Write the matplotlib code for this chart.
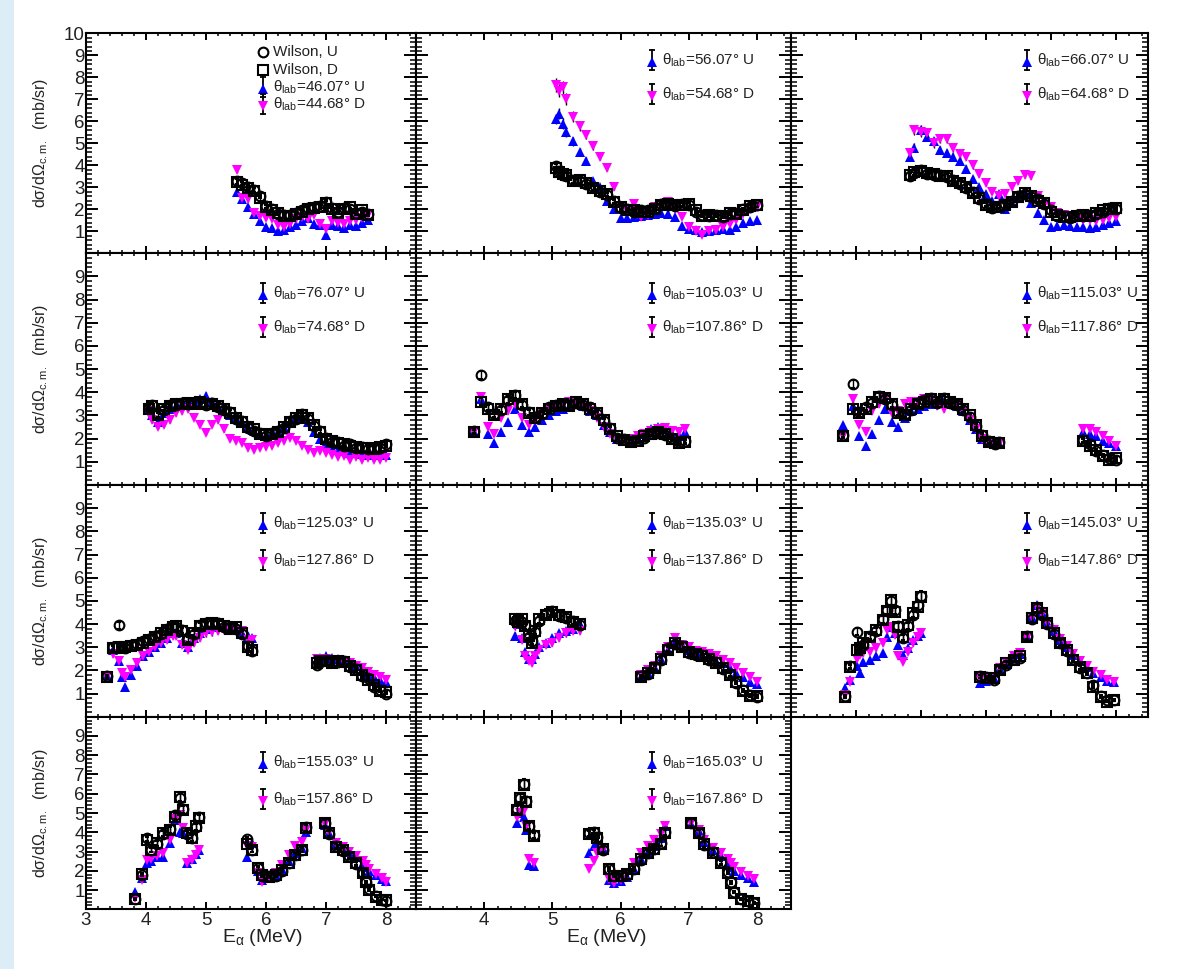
import matplotlib
matplotlib.use("Agg")
import matplotlib.pyplot as plt
from matplotlib.lines import Line2D
from matplotlib.patches import Rectangle
from matplotlib.ticker import MultipleLocator, FuncFormatter

# ---------------- data ----------------
p1_e = [5.52, 5.6, 5.7, 5.8, 5.9, 6.0, 6.1, 6.2, 6.3, 6.4, 6.5, 6.6, 6.7, 6.8, 6.9, 7.0, 7.1, 7.2, 7.3, 7.4, 7.5, 7.6, 7.7]
p1_wu = [3.3, 3.2, 3.0, 2.9, 2.6, 2.15, 2.0, 1.8, 1.75, 1.75, 1.85, 1.95, 2.05, 2.1, 2.15, 2.35, 2.05, 1.9, 2.05, 2.0, 1.85, 1.9, 1.8]
p1_wd = [3.25, 3.1, 2.95, 2.85, 2.5, 2.1, 1.95, 1.85, 1.7, 1.7, 1.8, 1.9, 2.0, 2.05, 2.1, 2.3, 2.0, 1.85, 2.0, 2.1, 1.8, 1.95, 1.75]
p1_up = [2.8, 2.45, 2.1, 1.8, 1.45, 1.2, 1.15, 1.0, 1.05, 1.2, 1.3, 1.45, 1.6, 1.35, 1.3, 0.85, 1.3, 1.25, 1.15, 1.3, 1.25, 1.4, 1.5]
p1_dn = [3.8, 2.5, 2.45, 1.85, 1.7, 1.6, 1.55, 1.3, 1.2, 1.35, 1.55, 1.65, 1.55, 1.75, 1.35, 1.1, 1.45, 1.4, 1.35, 1.45, 1.5, 1.6, 1.75]

p2_e = [5.05, 5.1, 5.15, 5.2, 5.3, 5.4, 5.5, 5.6, 5.7, 5.8, 5.9, 6.0, 6.1, 6.2, 6.3, 6.4, 6.5, 6.6, 6.7, 6.8, 6.9, 7.0, 7.1, 7.2, 7.3, 7.4, 7.5, 7.6, 7.7, 7.8, 7.9, 8.0]
p2_wu = [3.95, 3.75, 3.55, 3.5, 3.35, 3.3, 3.15, 3.0, 2.8, 2.65, 2.4, 2.05, 2.0, 1.9, 1.95, 1.95, 2.05, 2.25, 2.2, 2.15, 2.25, 2.2, 1.9, 1.75, 1.7, 1.75, 1.65, 1.8, 1.85, 2.0, 2.1, 2.2]
p2_wd = [3.9, 3.7, 3.6, 3.55, 3.3, 3.35, 3.2, 2.95, 2.85, 2.7, 2.35, 2.1, 1.95, 1.95, 1.9, 1.9, 2.0, 2.2, 2.25, 2.2, 2.2, 2.25, 1.95, 1.7, 1.75, 1.7, 1.7, 1.85, 1.8, 1.95, 2.15, 2.2]
p2_up = [6.1, 6.35, 5.9, 5.5, 5.1, 4.6, 4.2, 3.3, 3.0, 2.4, 2.0, 1.6, 1.6, 1.65, 1.7, 1.75, 1.8, 1.85, 1.8, 1.65, 1.25, 1.1, 1.05, 0.95, 1.0, 1.05, 1.1, 1.05, 1.2, 1.4, 1.45, 1.5]
p2_dn = [7.65, 7.4, 7.55, 7.0, 6.2, 5.8, 5.4, 4.9, 4.4, 3.9, 3.0, 2.1, 1.95, 2.25, 1.65, 1.75, 2.1, 2.25, 2.35, 2.0, 1.65, 1.2, 1.0, 0.85, 1.0, 1.05, 1.2, 1.35, 1.5, 1.8, 2.0, 2.1]

p3_e = [4.83, 4.9, 5.0, 5.1, 5.2, 5.3, 5.4, 5.5, 5.6, 5.7, 5.8, 5.9, 6.0, 6.1, 6.2, 6.3, 6.4, 6.5, 6.6, 6.7, 6.8, 6.9, 7.0, 7.1, 7.2, 7.3, 7.4, 7.5, 7.6, 7.7, 7.8, 7.9, 8.0]
p3_wu = [3.5, 3.65, 3.8, 3.6, 3.55, 3.55, 3.45, 3.35, 3.15, 2.95, 2.8, 2.45, 2.25, 2.05, 2.15, 2.25, 2.4, 2.6, 2.7, 2.55, 2.45, 2.25, 1.95, 1.7, 1.7, 1.6, 1.75, 1.7, 1.75, 1.8, 1.9, 2.05, 2.0]
p3_wd = [3.55, 3.7, 3.75, 3.65, 3.6, 3.5, 3.5, 3.3, 3.2, 3.0, 2.75, 2.5, 2.2, 2.1, 2.1, 2.2, 2.35, 2.55, 2.75, 2.6, 2.4, 2.3, 1.9, 1.75, 1.65, 1.65, 1.7, 1.75, 1.7, 1.85, 1.95, 2.0, 2.05]
p3_up = [4.4, 4.8, 5.6, 5.3, 5.1, 4.7, 4.55, 4.4, 4.2, 3.85, 3.4, 3.0, 2.7, 2.4, 2.7, 2.0, 2.3, 2.6, 2.8, 2.3, 1.85, 1.5, 1.2, 1.25, 1.3, 1.25, 1.2, 1.2, 1.15, 1.2, 1.3, 1.4, 1.45]
p3_dn = [4.55, 5.6, 5.5, 5.45, 5.0, 5.2, 5.2, 4.8, 4.5, 4.4, 4.0, 3.6, 3.2, 2.8, 2.6, 2.7, 3.0, 3.3, 3.55, 3.5, 2.6, 2.2, 2.1, 1.85, 1.75, 1.7, 1.6, 1.5, 1.5, 1.45, 1.5, 1.6, 1.65]

p4_e = [4.05, 4.1, 4.2, 4.3, 4.4, 4.5, 4.6, 4.7, 4.8, 4.9, 5.0, 5.1, 5.2, 5.3, 5.4, 5.5, 5.6, 5.7, 5.8, 5.9, 6.0, 6.1, 6.2, 6.3, 6.4, 6.5, 6.6, 6.7, 6.8, 6.9, 7.0, 7.1, 7.2, 7.3, 7.4, 7.5, 7.6, 7.7, 7.8, 7.9, 8.0]
p4_wu = [3.35, 3.45, 3.05, 3.25, 3.45, 3.45, 3.55, 3.5, 3.55, 3.55, 3.45, 3.55, 3.35, 3.25, 3.15, 2.85, 2.75, 2.45, 2.35, 2.25, 2.1, 2.25, 2.35, 2.45, 2.75, 2.85, 3.05, 2.85, 2.55, 2.35, 2.05, 1.85, 1.85, 1.7, 1.75, 1.6, 1.65, 1.55, 1.6, 1.6, 1.75]
p4_wd = [3.3, 3.4, 3.0, 3.3, 3.4, 3.5, 3.5, 3.55, 3.5, 3.6, 3.5, 3.5, 3.4, 3.3, 3.1, 2.9, 2.7, 2.5, 2.4, 2.2, 2.15, 2.2, 2.3, 2.5, 2.7, 2.9, 3.0, 2.9, 2.6, 2.3, 2.0, 1.9, 1.8, 1.75, 1.7, 1.65, 1.6, 1.6, 1.55, 1.65, 1.7]
p4_up = [3.3, 3.0, 2.7, 3.1, 3.3, 3.4, 3.5, 3.6, 3.6, 3.7, 3.85, 3.6, 3.4, 3.2, 3.0, 2.9, 2.7, 2.5, 2.35, 2.2, 2.1, 2.2, 2.3, 2.5, 2.7, 2.9, 2.95, 2.7, 2.3, 2.0, 1.8, 1.6, 1.5, 1.45, 1.4, 1.4, 1.35, 1.3, 1.3, 1.3, 1.3]
p4_dn = [3.2, 2.8, 2.5, 2.6, 2.8, 3.1, 3.2, 3.3, 2.9, 2.6, 2.25, 2.6, 2.8, 2.4, 2.0, 1.9, 1.8, 1.6, 1.5, 1.6, 1.65, 1.7, 1.8, 1.9, 2.05, 1.9, 1.7, 1.5, 1.4, 1.45, 1.4, 1.3, 1.2, 1.25, 1.1, 1.2, 1.1, 1.15, 1.1, 1.1, 1.15]

p5_e = [3.85, 3.95, 4.05, 4.15, 4.25, 4.35, 4.45, 4.55, 4.65, 4.75, 4.85, 4.95, 5.05, 5.15, 5.25, 5.35, 5.45, 5.55, 5.65, 5.75, 5.85, 5.95, 6.05, 6.15, 6.25, 6.35, 6.45, 6.55, 6.65, 6.75, 6.85, 6.95]
p5_wu = [2.35, 4.75, 3.35, 3.05, 3.25, 3.65, 3.9, 3.45, 3.15, 2.95, 3.05, 3.35, 3.45, 3.45, 3.45, 3.55, 3.45, 3.35, 3.05, 2.75, 2.45, 2.05, 2.0, 1.9, 1.95, 2.05, 2.25, 2.25, 2.15, 2.05, 1.85, 1.9]
p5_wd = [2.3, 3.6, 3.3, 3.0, 3.3, 3.7, 3.85, 3.5, 3.1, 2.9, 3.1, 3.3, 3.4, 3.5, 3.4, 3.6, 3.5, 3.3, 3.1, 2.8, 2.4, 2.1, 1.95, 1.85, 1.9, 2.1, 2.2, 2.3, 2.2, 2.0, 1.8, 1.85]
p5_up = [2.3, 3.7, 2.2, 1.8, 2.3, 2.7, 3.3, 2.6, 2.3, 2.5, 2.8, 3.0, 3.2, 3.3, 3.35, 3.5, 3.4, 3.2, 3.0, 2.6, 2.3, 2.0, 1.9, 1.9, 2.0, 2.2, 2.4, 2.5, 2.4, 2.2, 2.1, 2.3]
p5_dn = [2.3, 3.8, 2.5, 2.2, 2.9, 3.2, 3.5, 2.9, 2.6, 2.8, 3.1, 3.3, 3.4, 3.5, 3.6, 3.5, 3.4, 3.2, 2.9, 2.5, 2.2, 2.0, 1.9, 2.0, 2.1, 2.2, 2.35, 2.4, 2.45, 2.35, 2.3, 2.4]

p6_e = [3.8, 3.95, 4.05, 4.15, 4.25, 4.35, 4.45, 4.55, 4.65, 4.75, 4.85, 4.95, 5.05, 5.15, 5.25, 5.35, 5.45, 5.55, 5.65, 5.75, 5.85, 5.95, 6.05, 6.15, 6.2, 7.5, 7.6, 7.7, 7.8, 7.9, 8.0]
p6_wu = [2.15, 4.35, 3.15, 3.35, 3.55, 3.85, 3.7, 3.45, 3.15, 3.05, 3.25, 3.55, 3.65, 3.75, 3.55, 3.75, 3.55, 3.45, 3.25, 2.95, 2.55, 2.15, 1.9, 1.75, 1.85, 1.95, 1.75, 1.45, 1.3, 1.15, 1.1]
p6_wd = [2.1, 3.3, 3.1, 3.3, 3.6, 3.8, 3.75, 3.5, 3.1, 3.0, 3.3, 3.5, 3.6, 3.7, 3.6, 3.7, 3.6, 3.5, 3.3, 3.0, 2.6, 2.1, 1.85, 1.8, 1.8, 1.9, 1.7, 1.5, 1.25, 1.1, 1.15]
p6_up = [2.6, 3.4, 2.1, 1.7, 2.2, 2.8, 3.3, 2.7, 2.5, 2.9, 3.2, 3.3, 3.4, 3.5, 3.6, 3.6, 3.5, 3.4, 3.2, 2.8, 2.4, 2.0, 1.8, 1.8, 1.75, 2.3, 2.2, 2.1, 1.9, 1.8, 1.7]
p6_dn = [2.1, 3.7, 2.6, 2.3, 3.2, 3.5, 3.7, 3.1, 3.2, 3.5, 3.6, 3.6, 3.7, 3.7, 3.4, 3.3, 3.5, 3.5, 3.2, 2.8, 2.4, 2.0, 1.8, 1.8, 1.75, 2.4, 2.4, 2.3, 2.1, 1.9, 1.7]

p7_e = [3.35, 3.45, 3.55, 3.6, 3.65, 3.75, 3.85, 3.95, 4.05, 4.15, 4.25, 4.35, 4.45, 4.5, 4.6, 4.7, 4.8, 4.9, 5.0, 5.1, 5.2, 5.3, 5.4, 5.5, 5.6, 5.7, 5.77,
        6.85, 6.9, 7.0, 7.1, 7.2, 7.3, 7.4, 7.5, 7.6, 7.7, 7.8, 7.9, 8.0]
p7_wu = [1.75, 3.0, 3.95, 3.0, 2.95, 3.1, 3.15, 3.25, 3.35, 3.5, 3.55, 3.8, 3.9, 3.85, 3.75, 3.35, 3.55, 3.95, 4.05, 4.0, 4.05, 3.85, 3.85, 3.8, 3.55, 3.05, 2.85,
         2.25, 2.35, 2.45, 2.35, 2.35, 2.4, 2.15, 2.05, 1.75, 1.65, 1.3, 1.15, 1.0]
p7_wd = [1.7, 2.95, 3.0, 2.95, 3.0, 3.05, 3.1, 3.2, 3.3, 3.45, 3.6, 3.75, 3.85, 3.9, 3.7, 3.3, 3.6, 3.9, 4.0, 4.05, 4.0, 3.9, 3.8, 3.85, 3.6, 3.0, 2.9,
         2.3, 2.4, 2.4, 2.3, 2.4, 2.35, 2.2, 2.0, 1.8, 1.6, 1.35, 1.1, 1.05]
p7_up = [1.8, 2.9, 2.4, 1.7, 1.3, 1.8, 2.2, 2.6, 2.8, 3.0, 3.2, 3.4, 3.6, 3.6, 3.2, 3.0, 3.4, 3.6, 3.8, 3.85, 3.9, 3.85, 3.8, 3.8, 3.6, 3.5, 3.4,
         2.5, 2.55, 2.6, 2.55, 2.5, 2.4, 2.3, 2.2, 2.0, 1.85, 1.7, 1.6, 1.5]
p7_dn = [1.7, 2.7, 2.4, 1.9, 1.7, 2.0, 2.3, 2.6, 2.8, 3.0, 3.2, 3.3, 3.5, 3.5, 3.1, 2.9, 3.2, 3.4, 3.6, 3.65, 3.7, 3.75, 3.8, 3.75, 3.7, 3.3, 3.3,
         2.5, 2.5, 2.5, 2.45, 2.4, 2.35, 2.3, 2.2, 2.1, 1.95, 1.8, 1.7, 1.6]

p8_e = [4.45, 4.5, 4.55, 4.6, 4.65, 4.7, 4.75, 4.8, 4.9, 5.0, 5.1, 5.2, 5.3, 5.4, 6.3, 6.4, 6.5, 6.6, 6.7, 6.8, 6.9, 7.0, 7.1, 7.2, 7.3, 7.4, 7.5, 7.6, 7.7, 7.8, 7.9, 8.0]
p8_wu = [4.15, 4.2, 4.1, 3.95, 3.45, 3.25, 3.65, 4.15, 4.45, 4.55, 4.35, 4.25, 4.15, 3.95, 1.75, 1.85, 2.15, 2.45, 2.95, 3.15, 3.05, 2.75, 2.65, 2.65, 2.45, 2.35, 2.05, 1.85, 1.45, 1.15, 0.95, 0.85]
p8_wd = [4.2, 4.1, 4.2, 3.9, 3.5, 3.2, 3.7, 4.2, 4.4, 4.5, 4.4, 4.3, 4.1, 4.0, 1.7, 1.9, 2.1, 2.5, 2.9, 3.2, 3.0, 2.8, 2.7, 2.6, 2.5, 2.3, 2.1, 1.8, 1.5, 1.1, 0.9, 0.9]
p8_up = [3.5, 4.0, 3.4, 2.8, 2.5, 2.5, 2.7, 3.0, 3.2, 3.4, 3.6, 3.7, 3.8, 4.0, 1.7, 1.9, 2.1, 2.5, 2.9, 3.3, 3.1, 2.9, 2.8, 2.7, 2.6, 2.4, 2.3, 2.1, 1.9, 1.7, 1.5, 1.4]
p8_dn = [3.9, 4.0, 3.3, 2.6, 2.4, 2.3, 2.6, 2.9, 3.1, 3.2, 3.4, 3.6, 3.7, 3.7, 1.8, 2.0, 2.2, 2.6, 3.0, 3.4, 3.1, 3.0, 2.85, 2.8, 2.7, 2.6, 2.45, 2.3, 2.1, 1.9, 1.7, 1.5]

p9_e = [3.83, 3.91, 4.01, 4.06, 4.11, 4.21, 4.31, 4.42, 4.48, 4.54, 4.6, 4.65, 4.73, 4.8, 4.88, 4.96, 5.01,
        5.91, 6.01, 6.12, 6.22, 6.32, 6.43, 6.53, 6.63, 6.71, 6.79, 6.86, 6.94, 7.05, 7.15, 7.25, 7.35, 7.46, 7.56, 7.66, 7.77, 7.87, 7.97]
p9_wu = [0.9, 2.2, 3.67, 3.0, 3.1, 3.5, 3.7, 4.2, 4.6, 5.0, 4.6, 3.9, 3.4, 3.9, 4.4, 4.8, 5.2,
         1.75, 1.7, 1.6, 2.05, 2.25, 2.5, 2.55, 3.5, 4.2, 4.7, 4.4, 4.0, 3.55, 3.2, 2.85, 2.5, 2.1, 1.9, 1.35, 0.9, 0.7, 0.7]
p9_wd = [0.86, 2.16, 2.9, 2.95, 3.17, 3.45, 3.74, 4.17, 4.55, 5.04, 4.53, 3.88, 3.45, 3.95, 4.46, 4.75, 5.18,
         1.73, 1.65, 1.65, 2.01, 2.3, 2.45, 2.6, 3.45, 4.24, 4.67, 4.46, 4.03, 3.6, 3.17, 2.88, 2.45, 2.16, 1.87, 1.3, 0.86, 0.65, 0.72]
p9_up = [1.22, 1.58, 2.2, 1.87, 2.38, 2.45, 2.6, 2.74, 3.45, 3.88, 3.6, 3.1, 2.67, 2.95, 3.31, 3.5, 3.6,
         1.44, 1.55, 1.65, 2.05, 2.3, 2.55, 2.7, 3.5, 4.3, 4.81, 4.5, 4.1, 3.7, 3.3, 3.0, 2.65, 2.4, 2.15, 1.9, 1.7, 1.55, 1.5]
p9_dn = [0.93, 1.51, 2.5, 2.67, 2.74, 2.8, 2.95, 3.17, 3.74, 3.88, 3.52, 2.6, 2.38, 2.81, 3.2, 3.45, 3.6,
         1.65, 1.65, 1.7, 2.1, 2.35, 2.6, 2.75, 3.4, 4.3, 4.75, 4.45, 4.1, 3.75, 3.35, 3.05, 2.7, 2.4, 2.2, 1.95, 1.8, 1.6, 1.5]

p10_e = [3.82, 3.93, 4.01, 4.09, 4.18, 4.29, 4.4, 4.48, 4.57, 4.62, 4.68, 4.76, 4.83, 4.88,
         5.68, 5.76, 5.87, 5.94, 6.05, 6.16, 6.27, 6.38, 6.49, 6.6, 6.66,
         6.99, 7.05, 7.17, 7.28, 7.39, 7.5, 7.61, 7.67, 7.72, 7.83, 7.94, 8.0]
p10_wu = [0.55, 1.8, 3.7, 3.1, 3.4, 3.9, 4.15, 4.9, 5.8, 5.2, 3.9, 3.7, 4.25, 4.8,
          3.63, 3.1, 2.15, 1.75, 1.75, 1.75, 2.0, 2.4, 2.8, 3.1, 4.25,
          4.5, 3.9, 3.3, 3.05, 2.75, 2.35, 1.9, 1.4, 1.05, 0.7, 0.5, 0.45]
p10_wd = [0.52, 1.83, 3.6, 3.08, 3.43, 3.95, 4.12, 4.81, 5.85, 5.15, 3.95, 3.69, 4.3, 4.73,
          3.4, 3.08, 2.13, 1.78, 1.7, 1.78, 2.04, 2.39, 2.82, 3.08, 4.2,
          4.47, 3.95, 3.26, 3.08, 2.73, 2.39, 1.87, 1.43, 1.0, 0.66, 0.48, 0.48]
p10_up = [0.91, 1.6, 2.38, 2.5, 2.73, 2.73, 3.43, 4.64, 4.03, 3.95, 2.4, 2.6, 2.85, 3.08,
          2.73, 3.43, 2.0, 1.52, 1.6, 1.8, 2.1, 2.5, 2.9, 3.2, 4.0,
          4.4, 3.95, 3.4, 3.2, 2.95, 2.7, 2.4, 2.2, 2.0, 1.8, 1.55, 1.45]
p10_dn = [0.57, 1.52, 2.56, 2.6, 2.75, 2.9, 3.6, 4.7, 4.9, 4.2, 2.38, 2.56, 2.8, 3.08,
          3.3, 3.26, 1.9, 1.43, 1.6, 1.9, 2.3, 2.8, 3.3, 3.5, 4.1,
          4.45, 4.0, 3.45, 3.25, 3.0, 2.75, 2.5, 2.3, 2.1, 1.85, 1.6, 1.43]

p11_e = [4.48, 4.52, 4.58, 4.62, 4.66, 4.73,
         5.54, 5.61, 5.66, 5.74,
         5.83, 5.9, 6.0, 6.1, 6.2, 6.3, 6.4, 6.49, 6.59, 6.65,
         7.03, 7.15, 7.22, 7.35, 7.47, 7.57, 7.62, 7.67, 7.77, 7.87, 7.96]
p11_wu = [5.2, 5.8, 6.5, 5.6, 4.35, 3.85,
          3.95, 4.0, 3.75, 3.1,
          2.1, 1.75, 1.75, 1.8, 2.1, 2.55, 2.9, 3.15, 3.45, 4.0,
          4.5, 3.95, 3.35, 2.95, 2.45, 1.95, 1.4, 0.9, 0.55, 0.45, 0.35]
p11_wd = [5.16, 5.76, 6.45, 5.59, 4.3, 3.81,
          3.9, 3.98, 3.72, 3.11,
          2.08, 1.73, 1.73, 1.82, 2.08, 2.6, 2.94, 3.11, 3.4, 3.98,
          4.5, 3.98, 3.37, 2.94, 2.42, 1.9, 1.38, 0.86, 0.52, 0.43, 0.31]
p11_up = [4.47, 5.0, 4.8, 4.12, 2.3, 2.25,
          2.94, 3.28, 3.5, 3.2,
          1.5, 1.38, 1.45, 1.7, 2.1, 2.6, 3.0, 3.3, 3.7, 4.3,
          4.45, 4.05, 3.5, 3.1, 2.75, 2.4, 2.2, 2.0, 1.8, 1.6, 1.43]
p11_dn = [4.8, 5.0, 5.1, 4.3, 2.6, 2.4,
          2.08, 2.5, 2.94, 3.1,
          1.55, 1.38, 1.5, 1.9, 2.4, 2.9, 3.3, 3.6, 3.9, 4.3,
          4.5, 4.1, 3.6, 3.2, 2.9, 2.6, 2.4, 2.2, 1.95, 1.75, 1.56]

angles_u = ["46.07", "56.07", "66.07", "76.07", "105.03", "115.03", "125.03", "135.03", "145.03", "155.03", "165.03"]
angles_d = ["44.68", "54.68", "64.68", "74.68", "107.86", "117.86", "127.86", "137.86", "147.86", "157.86", "167.86"]
rel_err = 0.04

# ---------------- layout (pixels of the 1189x969 canvas) ----------------
W, H = 1189, 969
COL_X = [86, 416, 791, 1148]
ROW_Y = [33.3, 253.3, 485, 716.7, 909.3]
LEG_X = [263, 652, 1027]
LEG_Y = [(60, 94), (293, 327), (523, 560), (762, 799)]
XLAB_X = [262, 606]
TXT = "#222222"

plt.rcParams["font.family"] = ["Liberation Sans", "DejaVu Sans"]
plt.rcParams["mathtext.fontset"] = "custom"
plt.rcParams["mathtext.rm"] = "Liberation Sans"
plt.rcParams["mathtext.it"] = "Liberation Sans:italic"
plt.rcParams["mathtext.bf"] = "Liberation Sans:bold"

fig = plt.figure(figsize=(W / 100, H / 100), dpi=100)
fig.patches.append(Rectangle((0, 0), 14 / W, 1, transform=fig.transFigure,
                             facecolor="#dcedf8", edgecolor="none", zorder=0))


def fx(px):
    return px / W


def fy(py):
    return 1 - py / H


def leg_marker(px, py, marker, color, hollow=False, err=False):
    if err:
        fig.add_artist(Line2D([fx(px), fx(px)], [fy(py - 10), fy(py + 10)], color="k", lw=1.3))
        fig.add_artist(Line2D([fx(px), fx(px)], [fy(py - 10), fy(py + 10)], ls="none",
                              marker="_", ms=4, mew=1.3, color="k"))
    if hollow:
        fig.add_artist(Line2D([fx(px)], [fy(py)], ls="none", marker=marker, ms=7,
                              mfc="none", mec="k", mew=1.5))
    else:
        fig.add_artist(Line2D([fx(px)], [fy(py + 2)], ls="none", marker=marker, ms=7,
                              mfc=color, mec=color, mew=0))


def draw_panel(idx, row, col, e, wu, wd, up, dn):
    l, r = COL_X[col], COL_X[col + 1]
    t, b = ROW_Y[row], ROW_Y[row + 1]
    ax = fig.add_axes([fx(l), fy(b), (r - l) / W, (b - t) / H])
    ax.set_xlim(3, 8.5)
    ax.set_ylim(0, 10)

    ax.errorbar(e, up, yerr=[v * rel_err for v in up], fmt="^", ms=7, color="#0000ff",
                mew=0, ecolor="k", elinewidth=1.0, capsize=1.5, zorder=3)
    ax.errorbar(e, dn, yerr=[v * rel_err for v in dn], fmt="v", ms=7, color="#ff00ff",
                mew=0, ecolor="k", elinewidth=1.0, capsize=1.5, zorder=4)
    ax.errorbar(e, wu, yerr=[v * rel_err for v in wu], fmt="o", ms=7, mfc="none", mec="k",
                mew=1.5, ecolor="k", elinewidth=1.0, capsize=1.5, zorder=5)
    ax.errorbar(e, wd, yerr=[v * rel_err for v in wd], fmt="s", ms=7, mfc="none", mec="k",
                mew=1.5, ecolor="k", elinewidth=1.0, capsize=1.5, zorder=6)

    for s in ax.spines.values():
        s.set_linewidth(1.5)
    ax.xaxis.set_major_locator(MultipleLocator(1))
    ax.xaxis.set_minor_locator(MultipleLocator(0.2))
    ax.yaxis.set_major_locator(MultipleLocator(1))
    ax.yaxis.set_minor_locator(MultipleLocator(0.2))
    ax.tick_params(which="both", direction="in", top=True, right=True, colors="k",
                   labelcolor=TXT, labelsize=13.5)
    ax.tick_params(axis="x", which="major", length=5, width=1.4, pad=2)
    ax.tick_params(axis="x", which="minor", length=2.5, width=1.1)
    ax.tick_params(axis="y", which="major", length=8.5, width=1.4, pad=1)
    ax.tick_params(axis="y", which="minor", length=4.5, width=1.1)

    bottom = row == 3
    ax.tick_params(labelleft=(col == 0), labelbottom=bottom)
    top_lab = 10 if row == 0 else 9
    ax.yaxis.set_major_formatter(FuncFormatter(
        lambda v, p: "%d" % round(v) if 0.5 < v < top_lab + 0.5 else ""))
    x_lo = 3 if col == 0 else 4
    ax.xaxis.set_major_formatter(FuncFormatter(
        lambda v, p: "%d" % round(v) if x_lo - 0.5 < v < 8.5 else ""))

    if col == 0:
        fig.text(fx(40), fy((t + b) / 2), "d\u03c3/d\u03a9$_{\\mathrm{c.m.}}$  (mb/sr)", rotation=90,
                 ha="center", va="center", fontsize=11.5, color=TXT)
    if bottom:
        fig.text(fx(XLAB_X[col]), fy(938), "E$_{\\mathrm{\u03b1}}$ (MeV)", ha="center", va="center",
                 fontsize=14, color=TXT)

    # legend
    mx = LEG_X[col]
    lab_u = "\u03b8$_{\\mathrm{lab}}$=%s\u00b0 U" % angles_u[idx]
    lab_d = "\u03b8$_{\\mathrm{lab}}$=%s\u00b0 D" % angles_d[idx]
    if idx == 0:
        ys = [52, 70, 87, 104]
        leg_marker(mx, ys[0], "o", "k", hollow=True)
        leg_marker(mx, ys[1], "s", "k", hollow=True)
        leg_marker(mx, ys[2], "^", "#0000ff", err=True)
        leg_marker(mx, ys[3], "v", "#ff00ff", err=True)
        for yy, s in zip(ys, ["Wilson, U", "Wilson, D", lab_u, lab_d]):
            fig.text(fx(mx + 10), fy(yy), s, ha="left", va="center", fontsize=11, color=TXT)
    else:
        yu, yd = LEG_Y[row]
        leg_marker(mx, yu, "^", "#0000ff", err=True)
        leg_marker(mx, yd, "v", "#ff00ff", err=True)
        fig.text(fx(mx + 10), fy(yu), lab_u, ha="left", va="center", fontsize=11, color=TXT)
        fig.text(fx(mx + 10), fy(yd), lab_d, ha="left", va="center", fontsize=11, color=TXT)
    return ax


panels = [
    (0, 0, p1_e, p1_wu, p1_wd, p1_up, p1_dn),
    (0, 1, p2_e, p2_wu, p2_wd, p2_up, p2_dn),
    (0, 2, p3_e, p3_wu, p3_wd, p3_up, p3_dn),
    (1, 0, p4_e, p4_wu, p4_wd, p4_up, p4_dn),
    (1, 1, p5_e, p5_wu, p5_wd, p5_up, p5_dn),
    (1, 2, p6_e, p6_wu, p6_wd, p6_up, p6_dn),
    (2, 0, p7_e, p7_wu, p7_wd, p7_up, p7_dn),
    (2, 1, p8_e, p8_wu, p8_wd, p8_up, p8_dn),
    (2, 2, p9_e, p9_wu, p9_wd, p9_up, p9_dn),
    (3, 0, p10_e, p10_wu, p10_wd, p10_up, p10_dn),
    (3, 1, p11_e, p11_wu, p11_wd, p11_up, p11_dn),
]
for i, (row, col, e, wu, wd, up, dn) in enumerate(panels):
    draw_panel(i, row, col, e, wu, wd, up, dn)

fig.savefig("out.png", dpi=100)
